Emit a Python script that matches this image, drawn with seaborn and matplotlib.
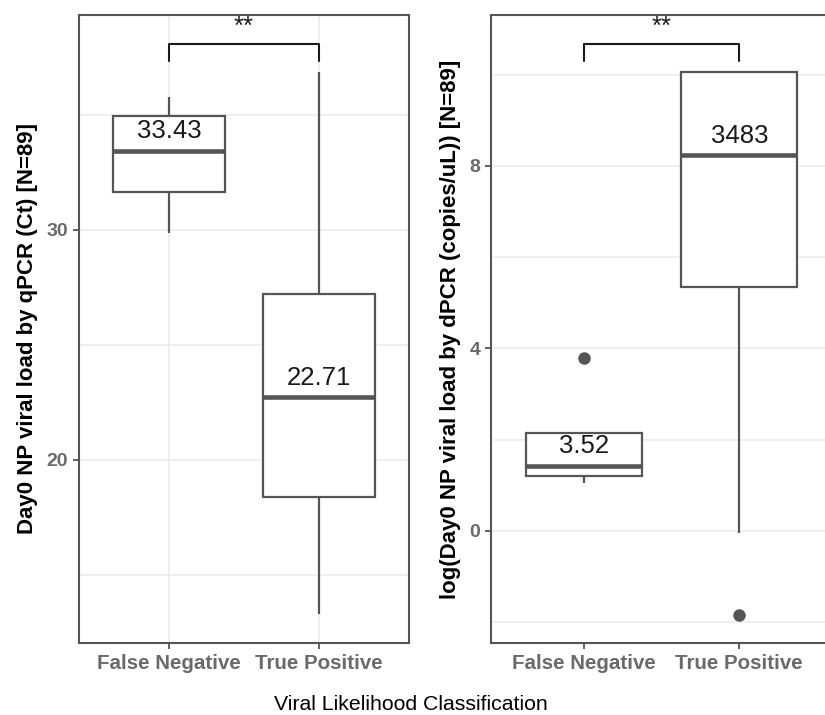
import numpy as np
import pandas as pd
import seaborn as sns
import matplotlib.pyplot as plt

# categories and five-number summaries (lower whisker, Q1, median, Q3, upper whisker)
groups = ["False Negative", "True Positive"]
ct_false_neg = [29.86, 31.64, 33.43, 34.94, 35.76]
ct_true_pos = [13.29, 18.39, 22.71, 27.20, 36.87]
dpcr_false_neg = [1.05, 1.21, 1.425, 2.14, 2.14]
dpcr_true_pos = [-0.04, 5.34, 8.23, 10.07, 10.07]
# outliers of the dPCR panel
dpcr_outlier_groups = ["False Negative", "True Positive"]
dpcr_outliers = [3.78, -1.84]
# median labels
ct_labels = ["33.43", "22.71"]
dpcr_labels = ["3.52", "3483"]
# significance brackets (bar height, leg bottom)
ct_bracket = [38.09, 37.33]
dpcr_bracket = [10.68, 10.30]
sig_text = "**"

ct_df = pd.DataFrame({"group": [groups[0]] * 5 + [groups[1]] * 5,
                      "value": ct_false_neg + ct_true_pos})
dpcr_df = pd.DataFrame({"group": [groups[0]] * 5 + [groups[1]] * 5,
                        "value": dpcr_false_neg + dpcr_true_pos})
out_df = pd.DataFrame({"group": dpcr_outlier_groups, "value": dpcr_outliers})

sns.set_style("white")
plt.rcParams['font.family'] = ['Liberation Sans', 'DejaVu Sans']

line_col = "#555555"
grid_col = "#EBEBEB"
tick_col = "#6A6A6A"

fig = plt.figure(figsize=(8.25, 7.15), dpi=100)
W, H = 825, 715
ax1 = fig.add_axes([79 / W, (H - 643) / H, 330 / W, 628 / H])
ax2 = fig.add_axes([491.3 / W, (H - 643) / H, 341 / W, 628 / H])


def draw_panel(ax, df, labels, bracket, ylim, major, minor, ylabel):
    sns.boxplot(data=df, x="group", y="value", order=groups, ax=ax,
                width=0.75, color="white", linecolor=line_col, linewidth=1.6,
                showcaps=False, fliersize=0,
                medianprops=dict(linewidth=3.3, color=line_col))
    ax.set_xlim(-0.6, 1.6)
    ax.set_ylim(*ylim)
    ax.set_yticks(major)
    ax.set_yticks(minor, minor=True)
    ax.grid(True, which="both", color=grid_col, linewidth=1.1)
    ax.set_axisbelow(True)
    for sp in ax.spines.values():
        sp.set_visible(True)
        sp.set_color(line_col)
        sp.set_linewidth(1.5)
    ax.tick_params(axis="both", which="major", length=4.5, width=1.3,
                   color=line_col, direction="out", left=True, bottom=True)
    ax.tick_params(axis="both", which="minor", length=0)
    for t in ax.get_yticklabels():
        t.set_fontsize(14)
        t.set_fontweight("bold")
        t.set_color(tick_col)
    for t in ax.get_xticklabels():
        t.set_fontsize(14.8)
        t.set_fontweight("bold")
        t.set_color(tick_col)
    ax.set_xlabel("")
    ax.set_ylabel(ylabel, fontsize=16, fontweight="bold", color="black", labelpad=6)
    medians = df.groupby("group")["value"].median().reindex(groups)
    for i, (g, lab) in enumerate(zip(groups, labels)):
        ax.annotate(lab, xy=(i, medians[g]), xytext=(0, 14), textcoords="offset points",
                    ha="center", va="center", fontsize=18.5, color="#1a1a1a")
    top, leg = bracket
    ax.plot([0, 0, 1, 1], [leg, top, top, leg], color="#1a1a1a", linewidth=1.5,
            clip_on=False)
    ax.annotate(sig_text, xy=(0.5, top), xytext=(0, 12), textcoords="offset points",
                ha="center", va="center", fontsize=18.5, color="#1a1a1a")


draw_panel(ax1, ct_df, ct_labels, ct_bracket, (12.04, 39.33), [20, 30], [15, 25, 35],
           "Day0 NP viral load by qPCR (Ct) [N=89]")
draw_panel(ax2, dpcr_df, dpcr_labels, dpcr_bracket, (-2.46, 11.31), [0, 4, 8], [-2, 2, 6, 10],
           "log(Day0 NP viral load by dPCR (copies/uL)) [N=89]")
sns.stripplot(data=out_df, x="group", y="value", order=groups, ax=ax2,
              jitter=False, color=line_col, size=9, linewidth=0)
ax2.set_xlim(-0.6, 1.6)
ax2.set_xlabel("")
ax2.set_ylabel("log(Day0 NP viral load by dPCR (copies/uL)) [N=89]",
               fontsize=16, fontweight="bold", color="black", labelpad=6)

fig.text(410.5 / W, 1 / H, "Viral Likelihood Classification", ha="center", va="bottom",
         fontsize=15.3, color="black")

fig.savefig("out.png", dpi=100)
